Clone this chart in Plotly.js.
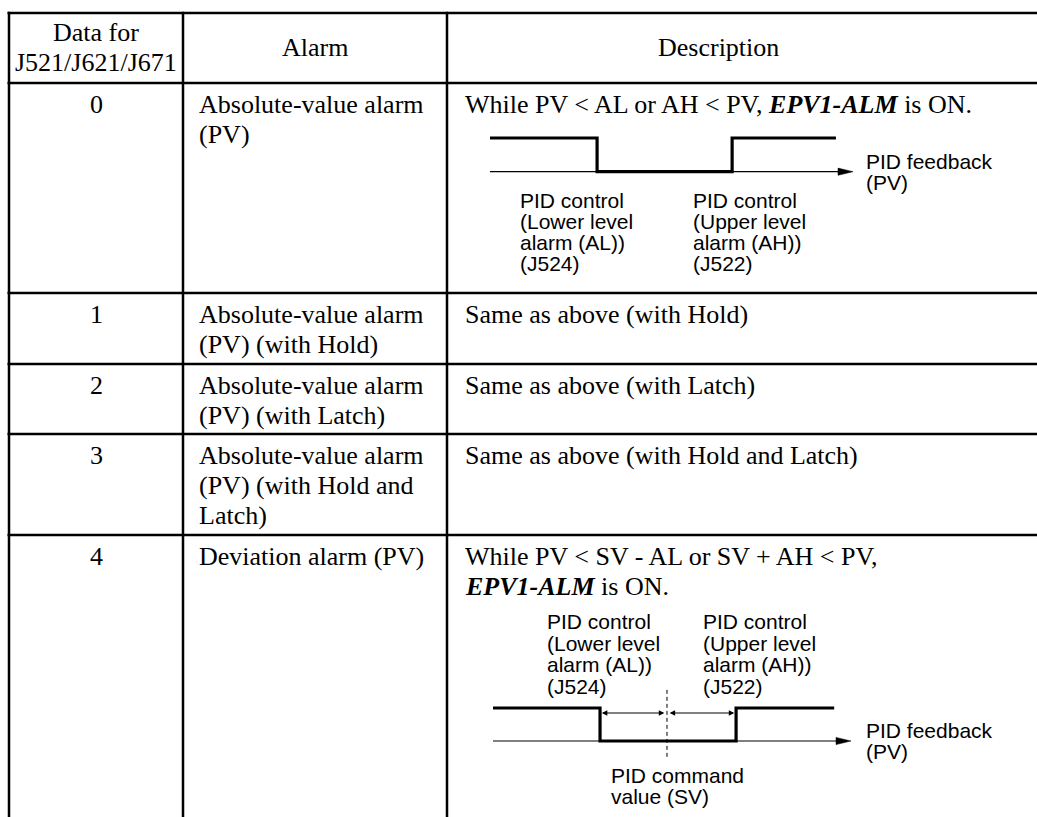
<!DOCTYPE html>
<html><head><meta charset="utf-8">
<script src="https://cdn.plot.ly/plotly-3.0.1.min.js"></script>
<style>html,body{margin:0;padding:0;background:#fff;overflow:hidden}</style>
</head><body><div id="chart" style="width:1037px;height:817px"></div>
<script>
// ---------------- data ----------------
const headerCol1 = ["Data for", "J521/J621/J671"];
const headerCol2 = ["Alarm"];
const headerCol3 = ["Description"];
const dataValues = ["0", "1", "2", "3", "4"];
const alarmNames = [
  ["Absolute-value alarm", "(PV)"],
  ["Absolute-value alarm", "(PV) (with Hold)"],
  ["Absolute-value alarm", "(PV) (with Latch)"],
  ["Absolute-value alarm", "(PV) (with Hold and", "Latch)"],
  ["Deviation alarm (PV)"]
];
const descriptions = [
  ["While PV &lt; AL or AH &lt; PV, <b><i>EPV1-ALM</i></b> is ON."],
  ["Same as above (with Hold)"],
  ["Same as above (with Latch)"],
  ["Same as above (with Hold and Latch)"],
  ["While PV &lt; SV - AL or SV + AH &lt; PV,", "<b><i>EPV1-ALM</i></b> is ON."]
];
const lowerLabel = ["PID control", "(Lower level", "alarm (AL))", "(J524)"];
const upperLabel = ["PID control", "(Upper level", "alarm (AH))", "(J522)"];
const pvLabel = ["PID feedback", "(PV)"];
const svLabel = ["PID command", "value (SV)"];

// absolute-value diagram (PV scale 0..100, alarm state 1 = ON / 0 = OFF)
const absPV = [0, 29.5, 29.5, 66.7, 66.7, 95.3];
const absState = [1, 1, 0, 0, 1, 1];
// deviation diagram
const devPV = [0, 29.9, 29.9, 67.9, 67.9, 95.3];
const devState = [1, 1, 0, 0, 1, 1];
const devSV = 48.6;
const pvAxisEnd = 100;

// ---------------- layout constants ----------------
const W = 1037, H = 817;
const colX = [9, 183, 447];
const rowY = [13, 83, 293, 364, 434, 535];
const LW = 2.5;
const SERIF = "Liberation Serif, Times New Roman, serif";
const SANS = "Liberation Sans, Arial, sans-serif";
const FS = 26, FD = 21;
const LINE = 30;

const ann = [];
function txt(s, x, base, size, family, xanchor) {
  const k = family === SERIF ? 0.3375 : 0.3465;
  ann.push({xref: 'x', yref: 'y', x: x, y: base - k * size, xanchor: xanchor || 'left',
    yanchor: 'middle', text: s, showarrow: false, borderpad: 0, borderwidth: 0,
    font: {family: family, size: size, color: '#000'}});
}

// header
headerCol1.forEach((s, i) => txt(s, 96, 41 + i * LINE, FS, SERIF, 'center'));
headerCol2.forEach((s) => txt(s, 315, 56, FS, SERIF, 'center'));
headerCol3.forEach((s) => txt(s, 718, 56, FS, SERIF, 'center'));

// body rows
dataValues.forEach((v, r) => {
  const b = rowY[r + 1] + 30.5;
  txt(v, 96, b, FS, SERIF, 'center');
  alarmNames[r].forEach((s, i) => txt(s, 199, b + i * LINE, FS, SERIF, 'left'));
  descriptions[r].forEach((s, i) => txt(s, 465, b + i * LINE, FS, SERIF, 'left'));
});

// grid lines
const shapes = [];
rowY.forEach(y => shapes.push({type: 'line', xref: 'x', yref: 'y', x0: colX[0] - 1.5, x1: W + 5, y0: y, y1: y,
  line: {color: '#000', width: LW}}));
colX.forEach(x => shapes.push({type: 'line', xref: 'x', yref: 'y', x0: x, x1: x, y0: rowY[0] - 1.2, y1: H + 5,
  line: {color: '#000', width: LW}}));

// diagram axes helpers
function diagAxes(x0px, x100px, y0px, y1px) {
  const px = (x100px - x0px) / 100;
  const py = y0px - y1px;
  return {
    x: {domain: [(x0px - 5 * px) / W, (x100px + 5 * px) / W], range: [-5, 105], visible: false, fixedrange: true},
    y: {domain: [1 - (y0px + py) / H, 1 - (y1px - py) / H], range: [-1, 2], visible: false, fixedrange: true},
    px: px, py: py
  };
}
const dA = diagAxes(490, 853, 171.7, 138);
const dB = diagAxes(493, 851, 741, 708);

const traces = [];
function diagram(d, xa, ya, pv, st) {
  const headLen = 15 / d.px, headHalf = 3.6 / d.py;
  traces.push({type: 'scatter', mode: 'lines', x: [0, pvAxisEnd - headLen], y: [0, 0], xaxis: xa, yaxis: ya,
    line: {color: '#000', width: 1.2}, hoverinfo: 'skip'});
  traces.push({type: 'scatter', mode: 'lines', x: [pvAxisEnd - headLen, pvAxisEnd, pvAxisEnd - headLen, pvAxisEnd - headLen],
    y: [headHalf, 0, -headHalf, headHalf], fill: 'toself', fillcolor: '#000', xaxis: xa, yaxis: ya,
    line: {color: '#000', width: 0.5}, hoverinfo: 'skip'});
  traces.push({type: 'scatter', mode: 'lines', x: pv, y: st, xaxis: xa, yaxis: ya,
    line: {color: '#000', width: 3.2}, hoverinfo: 'skip'});
}
diagram(dA, 'x2', 'y2', absPV, absState);
diagram(dB, 'x3', 'y3', devPV, devState);
// SV dashed line
traces.push({type: 'scatter', mode: 'lines', x: [devSV, devSV], y: [1.55, -0.48], xaxis: 'x3', yaxis: 'y3',
  line: {color: '#000', width: 1, dash: '4px,3px'}, hoverinfo: 'skip'});
// dimension arrows
const dimY = (741 - 713) / dB.py;
[[devPV[1], devSV], [devPV[3], devSV]].forEach(([edge, sv]) => {
  ann.push({xref: 'x3', yref: 'y3', axref: 'x3', ayref: 'y3', x: edge + (edge < sv ? 0.5 : -0.5), y: dimY,
    ax: sv + (edge < sv ? -0.6 : 0.6), ay: dimY, text: '', showarrow: true, arrowhead: 2, arrowside: 'end+start',
    arrowsize: 1.1, arrowwidth: 1, arrowcolor: '#000', standoff: 0, startstandoff: 0, borderpad: 0});
});

// diagram labels
lowerLabel.forEach((s, i) => txt(s, 520, 208 + i * 21, FD, SANS));
upperLabel.forEach((s, i) => txt(s, 693, 208 + i * 21, FD, SANS));
pvLabel.forEach((s, i) => txt(s, 866, 169 + i * 21, FD, SANS));
lowerLabel.forEach((s, i) => txt(s, 547, 629 + i * 21.5, FD, SANS));
upperLabel.forEach((s, i) => txt(s, 703, 629 + i * 21.5, FD, SANS));
pvLabel.forEach((s, i) => txt(s, 866, 738 + i * 21, FD, SANS));
svLabel.forEach((s, i) => txt(s, 611, 783 + i * 21, FD, SANS));

const layout = {
  width: W, height: H, margin: {l: 0, r: 0, t: 0, b: 0, pad: 0},
  paper_bgcolor: '#fff', plot_bgcolor: 'rgba(0,0,0,0)', showlegend: false,
  xaxis: {range: [0, W], domain: [0, 1], visible: false, fixedrange: true},
  yaxis: {range: [H, 0], domain: [0, 1], visible: false, fixedrange: true},
  xaxis2: Object.assign({anchor: 'y2'}, dA.x), yaxis2: Object.assign({anchor: 'x2'}, dA.y),
  xaxis3: Object.assign({anchor: 'y3'}, dB.x), yaxis3: Object.assign({anchor: 'x3'}, dB.y),
  shapes: shapes, annotations: ann
};
Plotly.newPlot('chart', traces, layout, {staticPlot: true, displayModeBar: false});
</script>
</body></html>
